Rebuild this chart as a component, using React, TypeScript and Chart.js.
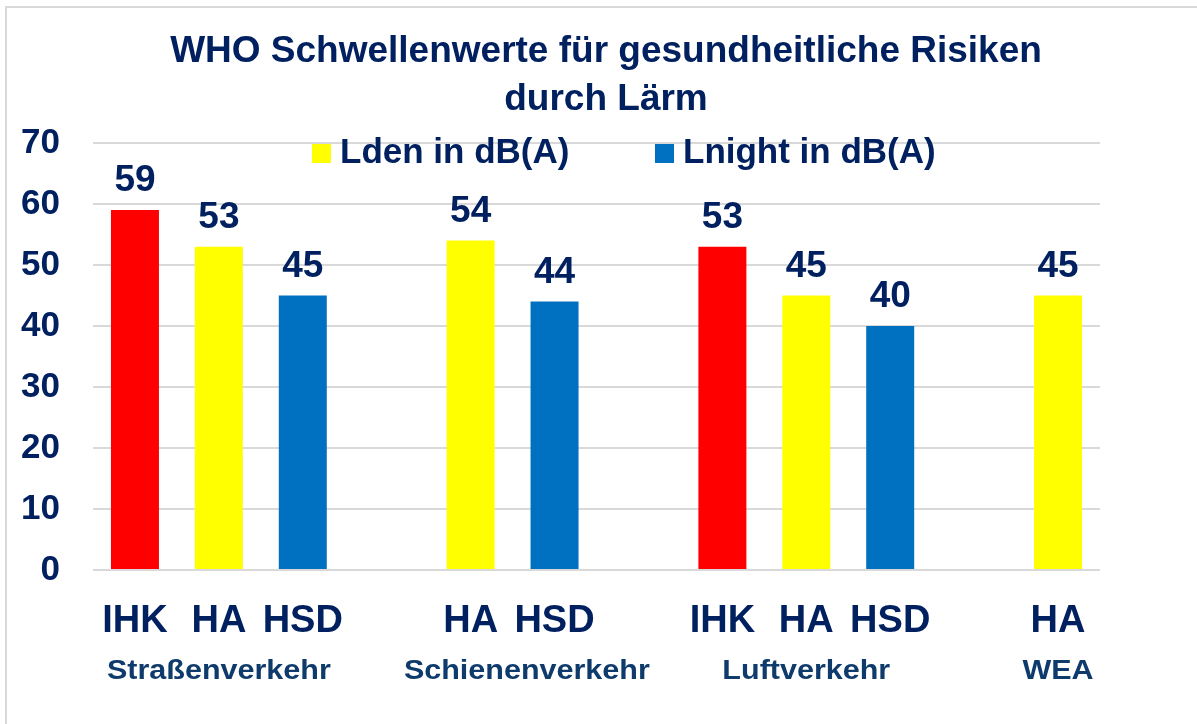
import React, { useEffect, useRef } from "react";
import { Chart, registerables } from "chart.js";

Chart.register(...registerables);

const titleLines = ["WHO Schwellenwerte für gesundheitliche Risiken", "durch Lärm"];
const categories = ["IHK", "HA", "HSD", "", "HA", "HSD", "", "IHK", "HA", "HSD", "", "HA"];
const ihkValues = [59, null, null, null, null, null, null, 53, null, null, null, null];
const ldenValues = [null, 53, null, null, 54, null, null, null, 45, null, null, 45];
const lnightValues = [null, null, 45, null, null, 44, null, null, null, 40, null, null];
const sectorLabels = ["Straßenverkehr", "Schienenverkehr", "Luftverkehr", "WEA"];
const sectorCenters = [1, 4.67, 8, 11];
const legendLabels = ["Lden in dB(A)", "Lnight in dB(A)"];
const yMin = 0;
const yMax = 70;
const yStep = 10;

const NAVY = "#002060";
const SECTOR = "#0E3B6C";
const RED = "#FF0000";
const YELLOW = "#FFFF00";
const BLUE = "#0070C0";
const GRID = "#D9D9D9";
const FONT = "'Liberation Sans', Arial, sans-serif";

const framePlugin = {
  id: "frame",
  beforeDraw(chart: any) {
    const ctx = chart.ctx;
    ctx.save();
    ctx.fillStyle = "#FFFFFF";
    ctx.fillRect(0, 0, chart.width, chart.height);
    ctx.strokeStyle = GRID;
    ctx.lineWidth = 2;
    ctx.strokeRect(6, 7, chart.width + 20, chart.height + 20);
    ctx.restore();
  },
};

const decorPlugin = {
  id: "decor",
  afterDraw(chart: any) {
    const ctx = chart.ctx;
    const xs = chart.scales.x;
    const area = chart.chartArea;
    ctx.save();
    // title
    ctx.fillStyle = NAVY;
    ctx.font = `bold 37px ${FONT}`;
    ctx.textAlign = "center";
    ctx.textBaseline = "alphabetic";
    ctx.fillText(titleLines[0], 606, 62);
    ctx.fillText(titleLines[1], 606, 110);
    // legend
    const legendColors = [YELLOW, BLUE];
    const lx = [312, 655];
    ctx.font = `bold 35px ${FONT}`;
    ctx.textAlign = "left";
    legendLabels.forEach((t, i) => {
      ctx.fillStyle = legendColors[i];
      ctx.fillRect(lx[i], 144, 19, 19);
      ctx.fillStyle = NAVY;
      ctx.fillText(t, lx[i] + 28, 163);
    });
    // category labels
    ctx.fillStyle = NAVY;
    ctx.font = `bold 38px ${FONT}`;
    ctx.textAlign = "center";
    categories.forEach((c, i) => {
      if (!c) return;
      ctx.fillText(c, xs.getPixelForValue(i), area.bottom + 62);
    });
    // sector labels
    ctx.fillStyle = SECTOR;
    ctx.font = `bold 27px ${FONT}`;
    sectorLabels.forEach((t, i) => {
      const f = Math.floor(sectorCenters[i]);
      const p0 = xs.getPixelForValue(f);
      const p1 = xs.getPixelForValue(f + 1);
      const x = p0 + (p1 - p0) * (sectorCenters[i] - f);
      ctx.save();
      ctx.translate(x, area.bottom + 109);
      ctx.scale(1.13, 1);
      ctx.fillText(t, 0, 0);
      ctx.restore();
    });
    ctx.restore();
  },
};

const valueLabelPlugin = {
  id: "valueLabels",
  afterDatasetsDraw(chart: any) {
    const ctx = chart.ctx;
    ctx.save();
    ctx.fillStyle = NAVY;
    ctx.font = `bold 37px ${FONT}`;
    ctx.textAlign = "center";
    ctx.textBaseline = "alphabetic";
    chart.data.datasets.forEach((ds: any, i: number) => {
      const meta = chart.getDatasetMeta(i);
      meta.data.forEach((bar: any, j: number) => {
        const v = ds.data[j];
        if (v === null || v === undefined) return;
        ctx.fillText(String(v), bar.x, bar.y - 19);
      });
    });
    ctx.restore();
  },
};

export default function App() {
  const ref = useRef<HTMLCanvasElement | null>(null);
  useEffect(() => {
    if (!ref.current) return;
    const chart = new Chart(ref.current, {
      type: "bar",
      data: {
        labels: categories,
        datasets: [
          { label: "IHK", data: ihkValues, backgroundColor: RED },
          { label: legendLabels[0], data: ldenValues, backgroundColor: YELLOW },
          { label: legendLabels[1], data: lnightValues, backgroundColor: BLUE },
        ],
      },
      options: {
        responsive: false,
        animation: false,
        events: [],
        layout: { padding: { top: 143, left: 21, right: 97, bottom: 154 } },
        datasets: { bar: { barPercentage: 0.572, categoryPercentage: 1 } } as any,
        plugins: {
          legend: { display: false },
          title: { display: false },
          tooltip: { enabled: false },
        },
        scales: {
          x: {
            stacked: true,
            grid: { display: false, drawTicks: false },
            border: { display: false },
            ticks: { display: false },
          },
          y: {
            stacked: true,
            min: yMin,
            max: yMax,
            grid: { color: GRID, lineWidth: 2, drawTicks: false },
            border: { display: false },
            afterFit: (scale: any) => {
              scale.width = 72;
            },
            ticks: {
              stepSize: yStep,
              color: NAVY,
              font: { family: FONT, size: 35, weight: "bold" },
              padding: 33,
            },
          },
        },
      },
      plugins: [framePlugin, valueLabelPlugin, decorPlugin],
    });
    return () => chart.destroy();
  }, []);
  return (
    <div style={{ position: "fixed", left: 0, top: 0, width: 1197, height: 724, background: "#fff" }}>
      <canvas ref={ref} width={1197} height={724} />
    </div>
  );
}
